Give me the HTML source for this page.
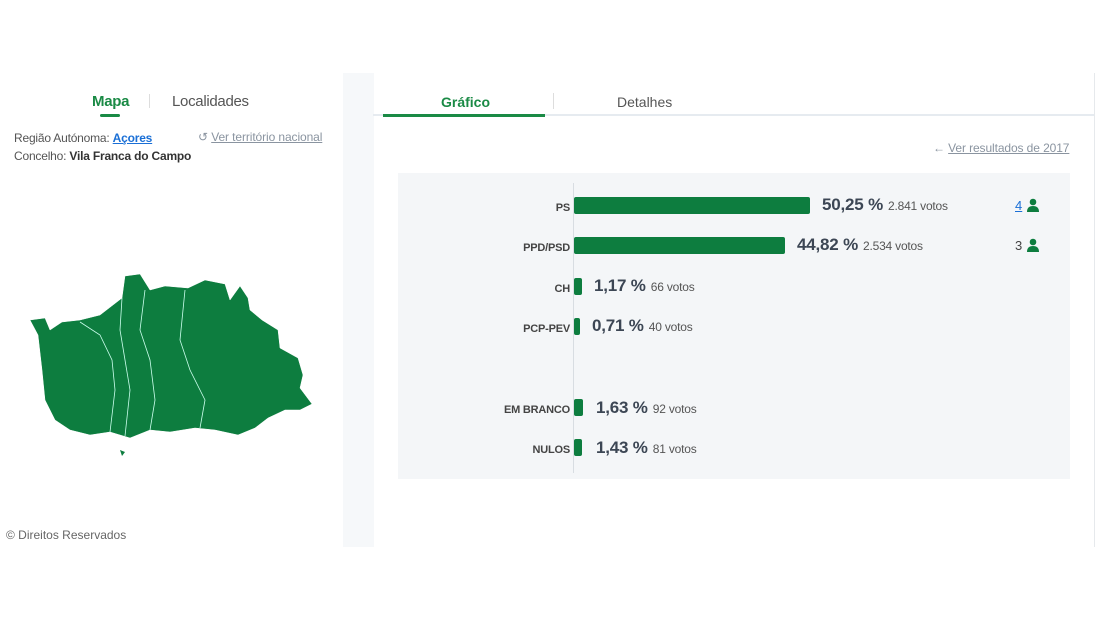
<!DOCTYPE html>
<html><head><meta charset="utf-8"><style>
body{margin:0;width:1100px;height:620px;background:#fff;font-family:"Liberation Sans",sans-serif;position:relative;overflow:hidden}
.a{position:absolute;white-space:nowrap}
.g{background:#0d7d3f;border-radius:2px;position:absolute}
.lab{position:absolute;right:530px;font-size:11px;font-weight:bold;color:#444;text-align:right;letter-spacing:-0.2px}
.pct{font-size:17px;font-weight:bold;color:#3c4654;letter-spacing:-0.2px}
.v{font-size:12px;color:#555;margin-left:5px;letter-spacing:-0.2px}
.ic{position:absolute;width:14px;height:14px}
</style></head><body>
<div class="a" style="left:343px;top:73px;width:31px;height:474px;background:#f6f8fa"></div>
<div class="a" style="left:1094px;top:73px;width:1px;height:474px;background:#e6e9ec"></div>
<div class="a" style="left:92px;top:93px;font-size:15px;font-weight:bold;color:#1a8a45;letter-spacing:-0.3px">Mapa</div>
<div class="a" style="left:100px;top:114px;width:20px;height:3px;background:#1a8a45;border-radius:2px"></div>
<div class="a" style="left:149px;top:94px;width:1px;height:14px;background:#ddd"></div>
<div class="a" style="left:172px;top:93px;font-size:15px;color:#555;letter-spacing:-0.3px">Localidades</div>
<div class="a" style="left:14px;top:131px;font-size:12px;color:#555;letter-spacing:-0.2px">Região Autónoma: <b style="color:#1a6fd6;text-decoration:underline">Açores</b></div>
<div class="a" style="left:14px;top:149px;font-size:12px;color:#555;letter-spacing:-0.2px">Concelho: <b style="color:#333">Vila Franca do Campo</b></div>
<div class="a" style="left:198px;top:130px;font-size:12px;color:#8a94a0;letter-spacing:-0.1px">↺ <u>Ver território nacional</u></div>
<svg class="a" style="left:0;top:260px" width="330" height="210">
<path fill="#0d7d3f" stroke="#fff" stroke-width="0.5" d="M30 60 L45 58 L50 70 L62 62 L80 60 L100 55 L122 38 L125 16 L140 14 L150 30 L165 26 L188 28 L205 20 L225 24 L230 40 L240 26 L248 38 L250 50 L262 60 L278 70 L280 88 L298 98 L303 115 L300 128 L312 144 L300 150 L285 150 L268 158 L255 168 L238 175 L215 170 L195 168 L170 172 L150 170 L130 178 L110 172 L90 175 L70 170 L55 160 L45 140 L42 110 L38 75 Z"/>
<path fill="none" stroke="#cfe" stroke-width="0.8" d="M80 62 L100 75 L112 100 L115 130 L110 172 M122 38 L120 70 L125 100 L130 130 L125 176 M145 30 L140 70 L150 100 L155 140 L150 170 M185 30 L180 80 L190 110 L205 140 L200 168"/>
<path fill="#0d7d3f" d="M120 190 l5 2 l-3 4 z"/>
</svg>
<div class="a" style="left:6px;top:528px;font-size:12px;color:#666">© Direitos Reservados</div>
<div class="a" style="left:441px;top:94px;font-size:14px;font-weight:bold;color:#1a8a45">Gráfico</div>
<div class="a" style="left:553px;top:93px;width:1px;height:16px;background:#ddd"></div>
<div class="a" style="left:617px;top:94px;font-size:14px;color:#555">Detalhes</div>
<div class="a" style="left:373px;top:114px;width:721px;height:2px;background:#e6ebf0"></div>
<div class="a" style="left:383px;top:114px;width:162px;height:3px;background:#1a8a45"></div>
<div class="a" style="left:933px;top:141px;font-size:12px;color:#8a94a0;letter-spacing:-0.1px">← <u>Ver resultados de 2017</u></div>
<div class="a" style="left:398px;top:173px;width:672px;height:306px;background:#f4f6f8"></div>
<div class="a" style="left:573px;top:183px;width:1px;height:290px;background:#d8dde2"></div>
<div class="lab" style="top:202px">PS</div><div class="g" style="left:574px;top:197px;width:236px;height:17px"></div>
<div class="a" style="left:822px;top:195px"><span class="pct">50,25 %</span><span class="v">2.841 votos</span></div>
<div class="a" style="left:1015px;top:198px;font-size:13px;color:#1a6fd6;text-decoration:underline">4</div>
<svg class="ic" style="left:1026px;top:198px" viewBox="0 0 14 14"><circle cx="7" cy="4" r="3.3" fill="#0d7d3f"/><path d="M1 14 Q1 8 7 8 Q13 8 13 14 Z" fill="#0d7d3f"/></svg>
<div class="lab" style="top:242px">PPD/PSD</div><div class="g" style="left:574px;top:237px;width:211px;height:17px"></div>
<div class="a" style="left:797px;top:235px"><span class="pct">44,82 %</span><span class="v">2.534 votos</span></div>
<div class="a" style="left:1015px;top:238px;font-size:13px;color:#444">3</div>
<svg class="ic" style="left:1026px;top:238px" viewBox="0 0 14 14"><circle cx="7" cy="4" r="3.3" fill="#0d7d3f"/><path d="M1 14 Q1 8 7 8 Q13 8 13 14 Z" fill="#0d7d3f"/></svg>
<div class="lab" style="top:283px">CH</div><div class="g" style="left:574px;top:278px;width:8px;height:17px"></div>
<div class="a" style="left:594px;top:276px"><span class="pct">1,17 %</span><span class="v">66 votos</span></div>
<div class="lab" style="top:323px">PCP-PEV</div><div class="g" style="left:574px;top:318px;width:6px;height:17px"></div>
<div class="a" style="left:592px;top:316px"><span class="pct">0,71 %</span><span class="v">40 votos</span></div>
<div class="lab" style="top:404px">EM BRANCO</div><div class="g" style="left:574px;top:399px;width:9px;height:17px"></div>
<div class="a" style="left:596px;top:398px"><span class="pct">1,63 %</span><span class="v">92 votos</span></div>
<div class="lab" style="top:444px">NULOS</div><div class="g" style="left:574px;top:439px;width:8px;height:17px"></div>
<div class="a" style="left:596px;top:438px"><span class="pct">1,43 %</span><span class="v">81 votos</span></div>
</body></html>
